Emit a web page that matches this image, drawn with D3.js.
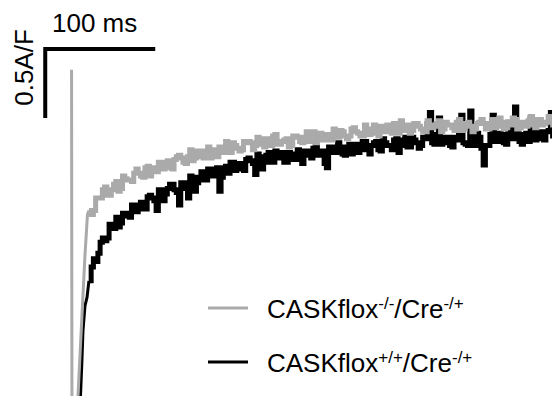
<!DOCTYPE html>
<html>
<head>
<meta charset="utf-8">
<script src="https://cdn.jsdelivr.net/npm/d3@7"></script>
<style>
  body { margin: 0; background: #fff; }
  svg { display: block; font-family: "Liberation Sans", Arial, Helvetica, sans-serif; }
</style>
</head>
<body>
<svg id="chart" width="552" height="396"></svg>
<script>
// time in ms (0 = voltage step), current density in A/F (0 = scale bar level)
const sampleMs = 2;
const tailStartMs = 16;

// fast onset / capacitive part of each trace
const grayOnsetT = [0.5, 0.9, 5.8, 6.25, 12.5, 14.7];
const grayOnsetI = [-0.15, -3.0, -3.0, -2.51, -1.49, -1.20];
const blackOnsetT = [7.5, 8.5, 9.8, 10.7, 12.5, 14.3];
const blackOnsetI = [-3.0, -2.51, -2.25, -2.04, -1.86, -1.80];

// sampled traces, every 2 ms from 16 ms
const grayTrace = [
  -1.17, -1.20, -1.17, -1.08, -1.08, -1.08, -1.02, -1.00, -1.06, -1.06,
  -1.02, -0.98, -0.96, -1.03, -1.01, -0.92, -0.94, -0.95, -0.95, -0.96,
  -0.90, -0.87, -0.90, -0.92, -0.93, -0.86, -0.85, -0.92, -0.89, -0.86,
  -0.89, -0.82, -0.82, -0.87, -0.84, -0.81, -0.86, -0.87, -0.80, -0.78,
  -0.77, -0.79, -0.82, -0.83, -0.78, -0.73, -0.81, -0.79, -0.74, -0.74,
  -0.78, -0.79, -0.74, -0.71, -0.79, -0.74, -0.73, -0.78, -0.71, -0.71,
  -0.75, -0.67, -0.72, -0.75, -0.68, -0.70, -0.72, -0.74, -0.73, -0.67,
  -0.68, -0.67, -0.68, -0.73, -0.70, -0.64, -0.65, -0.69, -0.71, -0.65,
  -0.67, -0.70, -0.63, -0.62, -0.69, -0.69, -0.67, -0.66, -0.65, -0.71,
  -0.70, -0.63, -0.63, -0.64, -0.67, -0.68, -0.64, -0.60, -0.67, -0.65,
  -0.60, -0.68, -0.64, -0.61, -0.66, -0.63, -0.62, -0.66, -0.66, -0.58,
  -0.62, -0.64, -0.59, -0.60, -0.63, -0.65, -0.63, -0.58, -0.57, -0.60,
  -0.61, -0.63, -0.63, -0.55, -0.58, -0.62, -0.59, -0.55, -0.61, -0.63,
  -0.56, -0.58, -0.60, -0.55, -0.58, -0.61, -0.54, -0.56, -0.61, -0.52,
  -0.56, -0.59, -0.55, -0.61, -0.59, -0.54, -0.54, -0.56, -0.58, -0.60,
  -0.60, -0.52, -0.55, -0.57, -0.56, -0.54, -0.52, -0.60, -0.58, -0.53,
  -0.55, -0.55, -0.57, -0.59, -0.53, -0.51, -0.59, -0.58, -0.54, -0.53,
  -0.56, -0.60, -0.58, -0.54, -0.53, -0.51, -0.54, -0.58, -0.58, -0.54,
  -0.51, -0.57, -0.56, -0.50, -0.53, -0.58, -0.57, -0.53, -0.55, -0.50,
  -0.51, -0.58, -0.57, -0.53, -0.53, -0.56, -0.52, -0.49, -0.55, -0.57,
  -0.51, -0.51, -0.55, -0.54, -0.53, -0.49, -0.51, -0.55, -0.53
];
const blackTrace = [
  -1.68, -1.58, -1.52, -1.54, -1.48, -1.40, -1.37, -1.39, -1.37, -1.27,
  -1.29, -1.30, -1.22, -1.29, -1.26, -1.19, -1.19, -1.21, -1.22, -1.13,
  -1.13, -1.18, -1.14, -1.11, -1.16, -1.16, -1.07, -1.06, -1.08, -1.10,
  -1.17, -1.02, -1.02, -1.10, -1.05, -1.01, -0.98, -0.98, -1.02, -1.04,
  -1.13, -0.97, -0.97, -1.01, -1.08, -0.92, -0.93, -1.03, -0.97, -0.93,
  -0.89, -0.95, -0.95, -0.87, -0.90, -0.92, -0.87, -0.86, -1.03, -0.93,
  -0.86, -0.85, -0.90, -0.82, -0.82, -0.88, -0.85, -0.83, -0.87, -0.88,
  -0.80, -0.79, -0.81, -0.83, -0.91, -0.76, -0.78, -0.87, -0.82, -0.77,
  -0.75, -0.82, -0.82, -0.74, -0.78, -0.79, -0.75, -0.82, -0.82, -0.75,
  -0.76, -0.80, -0.78, -0.73, -0.80, -0.83, -0.74, -0.74, -0.77, -0.79,
  -0.72, -0.71, -0.77, -0.77, -0.74, -0.83, -0.86, -0.71, -0.71, -0.75,
  -0.75, -0.68, -0.71, -0.76, -0.77, -0.71, -0.69, -0.76, -0.72, -0.69,
  -0.75, -0.73, -0.67, -0.67, -0.73, -0.76, -0.70, -0.68, -0.67, -0.73,
  -0.74, -0.65, -0.68, -0.70, -0.70, -0.73, -0.66, -0.65, -0.75, -0.70,
  -0.66, -0.64, -0.71, -0.71, -0.64, -0.66, -0.68, -0.72, -0.70, -0.64,
  -0.65, -0.54, -0.46, -0.68, -0.69, -0.62, -0.50, -0.69, -0.68, -0.64,
  -0.64, -0.70, -0.71, -0.64, -0.66, -0.53, -0.48, -0.68, -0.69, -0.70,
  -0.45, -0.65, -0.70, -0.61, -0.64, -0.72, -0.84, -0.70, -0.70, -0.62,
  -0.48, -0.67, -0.67, -0.61, -0.62, -0.68, -0.69, -0.53, -0.63, -0.65,
  -0.42, -0.61, -0.67, -0.69, -0.62, -0.61, -0.67, -0.50, -0.60, -0.66,
  -0.64, -0.60, -0.65, -0.66, -0.60, -0.59, -0.46, -0.63, -0.61
];

const legendLabels = [
  [["CASKflox", false], ["-/-", true], ["/Cre", false], ["-/+", true]],
  [["CASKflox", false], ["+/+", true], ["/Cre", false], ["-/+", true]]
];
const traceColors = ["#aaaaaa", "#000000"];

const scaleBarMs = 100;
const scaleBarAF = 0.5;

const svg = d3.select("#chart");

const x = d3.scaleLinear().domain([0, 100]).range([71, 183]);
const y = d3.scaleLinear().domain([0, -1]).range([49, 187]);

const toPts = (ts, vs) => ts.map((t, i) => [t, vs[i]]);
const tailPts = vs => vs.map((v, i) => [tailStartMs + i * sampleMs, v]);

const lineLin = d3.line().x(d => x(d[0])).y(d => y(d[1]));
const lineStep = d3.line().x(d => x(d[0])).y(d => y(d[1])).curve(d3.curveStepAfter);

const traces = [
  { onset: toPts(grayOnsetT, grayOnsetI), tail: tailPts(grayTrace), color: traceColors[0] },
  { onset: toPts(blackOnsetT, blackOnsetI), tail: tailPts(blackTrace), color: traceColors[1] }
];

// black underneath, gray on top
[traces[1], traces[0]].forEach(tr => {
  const g = svg.append("g");
  g.append("path")
    .attr("d", lineLin(tr.onset.concat([tr.tail[0]])))
    .attr("fill", "none")
    .attr("stroke", tr.color)
    .attr("stroke-width", 3);
  g.append("path")
    .attr("d", lineStep(tr.tail))
    .attr("fill", "none")
    .attr("stroke", tr.color)
    .attr("stroke-width", 5);
});

// scale bar
const sbT0 = -23;
svg.append("path")
  .attr("d", `M${x(sbT0 + scaleBarMs) - 2},${y(0)}L${x(sbT0)},${y(0)}L${x(sbT0)},${y(-scaleBarAF)}`)
  .attr("fill", "none")
  .attr("stroke", "#000")
  .attr("stroke-width", 4)
  .attr("stroke-linejoin", "miter");

svg.append("text")
  .attr("x", 52)
  .attr("y", 32)
  .attr("font-size", 26)
  .text(`${scaleBarMs} ms`);

svg.append("text")
  .attr("transform", `translate(33, ${(y(0) + y(-scaleBarAF)) / 2 - 16}) rotate(-90)`)
  .attr("text-anchor", "middle")
  .attr("font-size", 26)
  .text(`${scaleBarAF}A/F`);

// legend
const legend = svg.append("g").attr("transform", "translate(208, 308)");
legendLabels.forEach((parts, i) => {
  const row = legend.append("g").attr("transform", `translate(0, ${i * 54})`);
  row.append("line")
    .attr("x1", 0).attr("x2", 40)
    .attr("y1", 0).attr("y2", 0)
    .attr("stroke", traceColors[i])
    .attr("stroke-width", 3);
  const txt = row.append("text")
    .attr("x", 59)
    .attr("y", 10)
    .attr("font-size", 26);
  parts.forEach(([s, sup]) => {
    const ts = txt.append("tspan").text(s);
    if (sup) ts.attr("font-size", 17).attr("dy", -9);
    else ts.attr("dy", txt.selectAll("tspan").size() > 1 ? 9 : 0);
  });
});
</script>
</body>
</html>
